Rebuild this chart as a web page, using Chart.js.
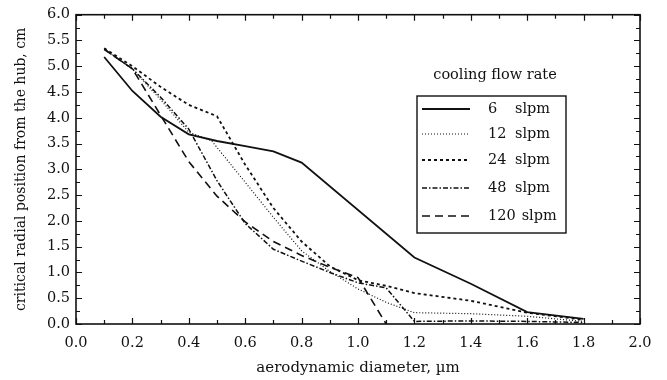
<!DOCTYPE html>
<html>
<head>
<meta charset="utf-8">
<script src="https://cdn.jsdelivr.net/npm/chart.js@4.4.1/dist/chart.umd.min.js"></script>
<style>
  html, body { margin: 0; padding: 0; background: #fff; }
</style>
</head>
<body>
<canvas id="chart" width="667" height="380"></canvas>
<script>
// Datos
const flowRates = ["6", "12", "24", "48", "120"];

const x6 = [0.1, 0.2, 0.3, 0.4, 0.5, 0.6, 0.7, 0.8, 1.2, 1.4, 1.6, 1.8];
const y6 = [5.18, 4.52, 4.02, 3.68, 3.55, 3.45, 3.35, 3.13, 1.29, 0.78, 0.23, 0.1];

const x12 = [0.1, 0.2, 0.3, 0.4, 0.48, 0.6, 0.7, 0.8, 0.9, 1.0, 1.1, 1.2, 1.4, 1.6, 1.8];
const y12 = [5.33, 4.95, 4.35, 3.72, 3.56, 2.75, 2.07, 1.42, 1.02, 0.68, 0.42, 0.22, 0.2, 0.15, 0.05];

const x24 = [0.1, 0.2, 0.3, 0.4, 0.5, 0.6, 0.7, 0.8, 0.9, 1.0, 1.1, 1.2, 1.4, 1.6, 1.8];
const y24 = [5.35, 5.0, 4.6, 4.25, 4.03, 3.09, 2.25, 1.6, 1.12, 0.85, 0.74, 0.6, 0.45, 0.22, 0.08];

const x48 = [0.1, 0.2, 0.3, 0.4, 0.5, 0.6, 0.7, 0.8, 0.9, 1.0, 1.1, 1.2, 1.4, 1.6, 1.8];
const y48 = [5.33, 4.95, 4.4, 3.78, 2.78, 1.95, 1.45, 1.22, 1.0, 0.8, 0.7, 0.05, 0.06, 0.05, 0.03];

const x120 = [0.1, 0.2, 0.3, 0.4, 0.5, 0.6, 0.7, 0.8, 0.9, 1.0, 1.1];
const y120 = [5.33, 4.95, 4.05, 3.15, 2.48, 1.98, 1.6, 1.33, 1.1, 0.9, 0.0];

const xTicks = { min: 0, max: 2, step: 0.1 };
const yTicks = { min: 0, max: 6, step: 0.25 };

const ink = "#111";
const serif = "'DejaVu Serif', 'Liberation Serif', serif";

function toPoints(xs, ys) {
  return xs.map((x, i) => ({ x, y: ys[i] }));
}

function makeSet(label, xs, ys, dash, width) {
  return {
    label: label + " slpm",
    data: toPoints(xs, ys),
    borderColor: ink,
    borderWidth: width,
    borderDash: dash,
    pointRadius: 0,
    tension: 0,
    fill: false
  };
}

// Marco y marcas hacia adentro
const framePlugin = {
  id: "frame",
  afterDraw(chart) {
    const { ctx, chartArea: a, scales: { x, y } } = chart;
    ctx.save();
    ctx.strokeStyle = ink;
    ctx.lineWidth = 1.6;
    ctx.strokeRect(a.left, a.top, a.right - a.left, a.bottom - a.top);
    ctx.lineWidth = 1.2;
    ctx.beginPath();
    x.ticks.forEach(t => {
      const px = Math.round(x.getPixelForValue(t.value)) + 0.5;
      const len = t.label ? 6 : 4;
      ctx.moveTo(px, a.bottom); ctx.lineTo(px, a.bottom - len);
      ctx.moveTo(px, a.top); ctx.lineTo(px, a.top + len);
    });
    y.ticks.forEach(t => {
      const py = Math.round(y.getPixelForValue(t.value)) + 0.5;
      const len = t.label ? 6 : 4;
      ctx.moveTo(a.left, py); ctx.lineTo(a.left + len, py);
      ctx.moveTo(a.right, py); ctx.lineTo(a.right - len, py);
    });
    ctx.stroke();
    ctx.restore();
  }
};

// Leyenda con recuadro
const legendPlugin = {
  id: "legendBox",
  afterDraw(chart) {
    const ctx = chart.ctx;
    const box = { left: 417, top: 96, right: 566, bottom: 233 };
    ctx.save();
    ctx.fillStyle = ink;
    ctx.font = "14.5px " + serif;
    ctx.textBaseline = "middle";
    ctx.textAlign = "center";
    ctx.fillText("cooling flow rate", 495, 75);
    ctx.strokeStyle = ink;
    ctx.lineWidth = 1.4;
    ctx.strokeRect(box.left, box.top, box.right - box.left, box.bottom - box.top);
    ctx.textAlign = "left";
    const rowY = [109, 134, 160, 188, 216];
    chart.data.datasets.forEach((ds, i) => {
      const yy = rowY[i];
      ctx.save();
      ctx.lineWidth = ds.borderWidth;
      ctx.setLineDash(ds.borderDash || []);
      ctx.beginPath();
      ctx.moveTo(422, yy);
      ctx.lineTo(470, yy);
      ctx.stroke();
      ctx.restore();
      const n = flowRates[i];
      ctx.fillText(n, 488, yy);
      const w = ctx.measureText(n).width;
      ctx.fillText("slpm", Math.max(515, 488 + w + 6), yy);
    });
    ctx.restore();
  }
};

new Chart(document.getElementById("chart"), {
  type: "line",
  data: {
    datasets: [
      makeSet(flowRates[0], x6, y6, [], 1.8),
      makeSet(flowRates[1], x12, y12, [1, 2], 1.2),
      makeSet(flowRates[2], x24, y24, [3, 3], 1.8),
      makeSet(flowRates[3], x48, y48, [5, 2, 1.5, 2], 1.5),
      makeSet(flowRates[4], x120, y120, [8, 5], 1.6)
    ]
  },
  options: {
    responsive: false,
    animation: false,
    layout: { padding: { top: 13, right: 27, left: 0, bottom: 0 } },
    plugins: {
      legend: { display: false },
      tooltip: { enabled: false }
    },
    scales: {
      x: {
        type: "linear",
        min: xTicks.min,
        max: xTicks.max,
        grid: { display: false, drawTicks: false },
        border: { display: false },
        ticks: {
          stepSize: xTicks.step,
          autoSkip: false,
          maxRotation: 0,
          padding: 11,
          color: ink,
          font: { family: serif, size: 14.5 },
          callback: v => Math.round(v * 10) % 2 === 0 ? v.toFixed(1) : ""
        },
        title: {
          display: true,
          text: "aerodynamic diameter, \u00b5m",
          color: ink,
          font: { family: serif, size: 15 },
          padding: { top: 0, bottom: 3 }
        },
        afterFit: s => { s.height = 56; }
      },
      y: {
        min: yTicks.min,
        max: yTicks.max,
        grid: { display: false, drawTicks: false },
        border: { display: false },
        ticks: {
          stepSize: yTicks.step,
          autoSkip: false,
          padding: 6,
          color: ink,
          font: { family: serif, size: 14.5 },
          callback: v => Math.round(v * 4) % 2 === 0 ? v.toFixed(1) : ""
        },
        title: {
          display: true,
          text: "critical radial position from the hub, cm",
          color: ink,
          font: { family: serif, size: 14 },
          padding: { top: 13, bottom: 0 }
        },
        afterFit: s => { s.width = 76; }
      }
    }
  },
  plugins: [framePlugin, legendPlugin]
});
</script>
</body>
</html>
